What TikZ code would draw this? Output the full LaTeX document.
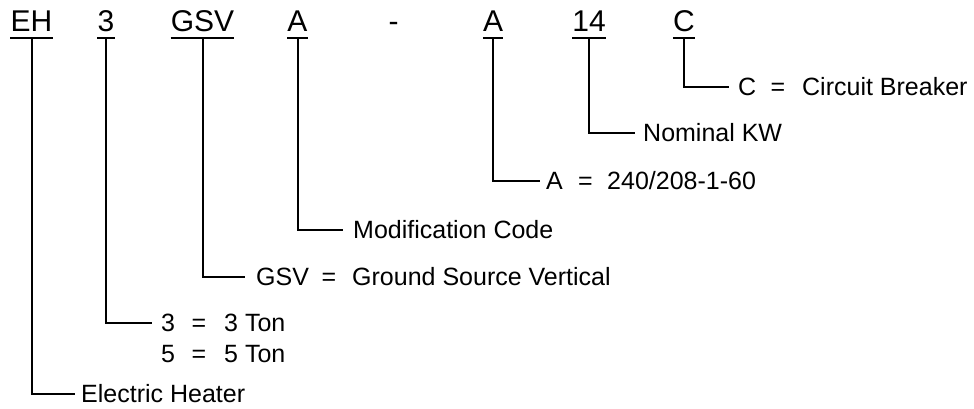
\documentclass[tikz,border=0pt]{standalone}
\usepackage{fontspec}
\setmainfont{Liberation Sans}
\newcommand{\eqrow}[5]{\makebox[#2][l]{#1}\makebox[#4][l]{#3}#5}
\begin{document}
\begin{tikzpicture}[x=1pt,y=1pt,
  code/.style={font=\fontsize{30}{36}\selectfont, inner sep=0pt, text depth=6pt, anchor=base},
  lbl/.style={font=\fontsize{25}{30}\selectfont, inner sep=0pt, text height=18pt, text depth=0pt, anchor=base west},
  uline/.style={line width=2pt},
  conn/.style={line width=2pt}]
\useasboundingbox (0,0) rectangle (974,409);
% code letters
\node[code] (eh)  at (31.5,377) {EH};
\node[code] (n3)  at (106,377) {3};
\node[code] (gsv) at (202.5,377) {GSV};
\node[code] (a1)  at (297.5,377) {A};
\node[code] (dash) at (393.5,377) {-};
\node[code] (a2)  at (493,377) {A};
\node[code] (kw)  at (589,377) {14};
\node[code] (c)   at (684,377) {C};
% underlines
\foreach \n in {eh,n3,gsv,a1,a2,kw,c}
  \draw[uline] (\n.south west) -- (\n.south east);
% labels
\node[lbl] (lcb)   at (738,313) {\eqrow{C}{32.5pt}{=}{31.5pt}{Circuit Breaker}};
\node[lbl] (lkw)   at (643,267) {Nominal KW};
\node[lbl] (lvolt) at (546,219) {\eqrow{A}{32pt}{=}{29pt}{240/208-1-60}};
\node[lbl] (lmod)  at (353,170) {Modification Code};
\node[lbl] (lgsv)  at (256,123) {\eqrow{GSV}{65.5pt}{=}{30.5pt}{Ground Source Vertical}};
\node[lbl] (lt3)   at (161,77) {\eqrow{3}{30.5pt}{=}{32.5pt}{3 Ton}};
\node[lbl] (lt5)   at (161,46) {\eqrow{5}{30.5pt}{=}{32.5pt}{5 Ton}};
\node[lbl] (lel)   at (81,6) {Electric Heater};
% connectors
\draw[conn, shorten >=9pt]  (c.south)   |- (lcb.west);
\draw[conn, shorten >=8pt]  (kw.south)  |- (lkw.west);
\draw[conn, shorten >=6pt]  (a2.south)  |- (lvolt.west);
\draw[conn, shorten >=10pt] (a1.south)  |- (lmod.west);
\draw[conn, shorten >=11pt] (gsv.south) |- (lgsv.west);
\draw[conn, shorten >=9pt]  (n3.south)  |- (lt3.west);
\draw[conn, shorten >=6pt]  (eh.south)  |- (lel.west);
\end{tikzpicture}
\end{document}
